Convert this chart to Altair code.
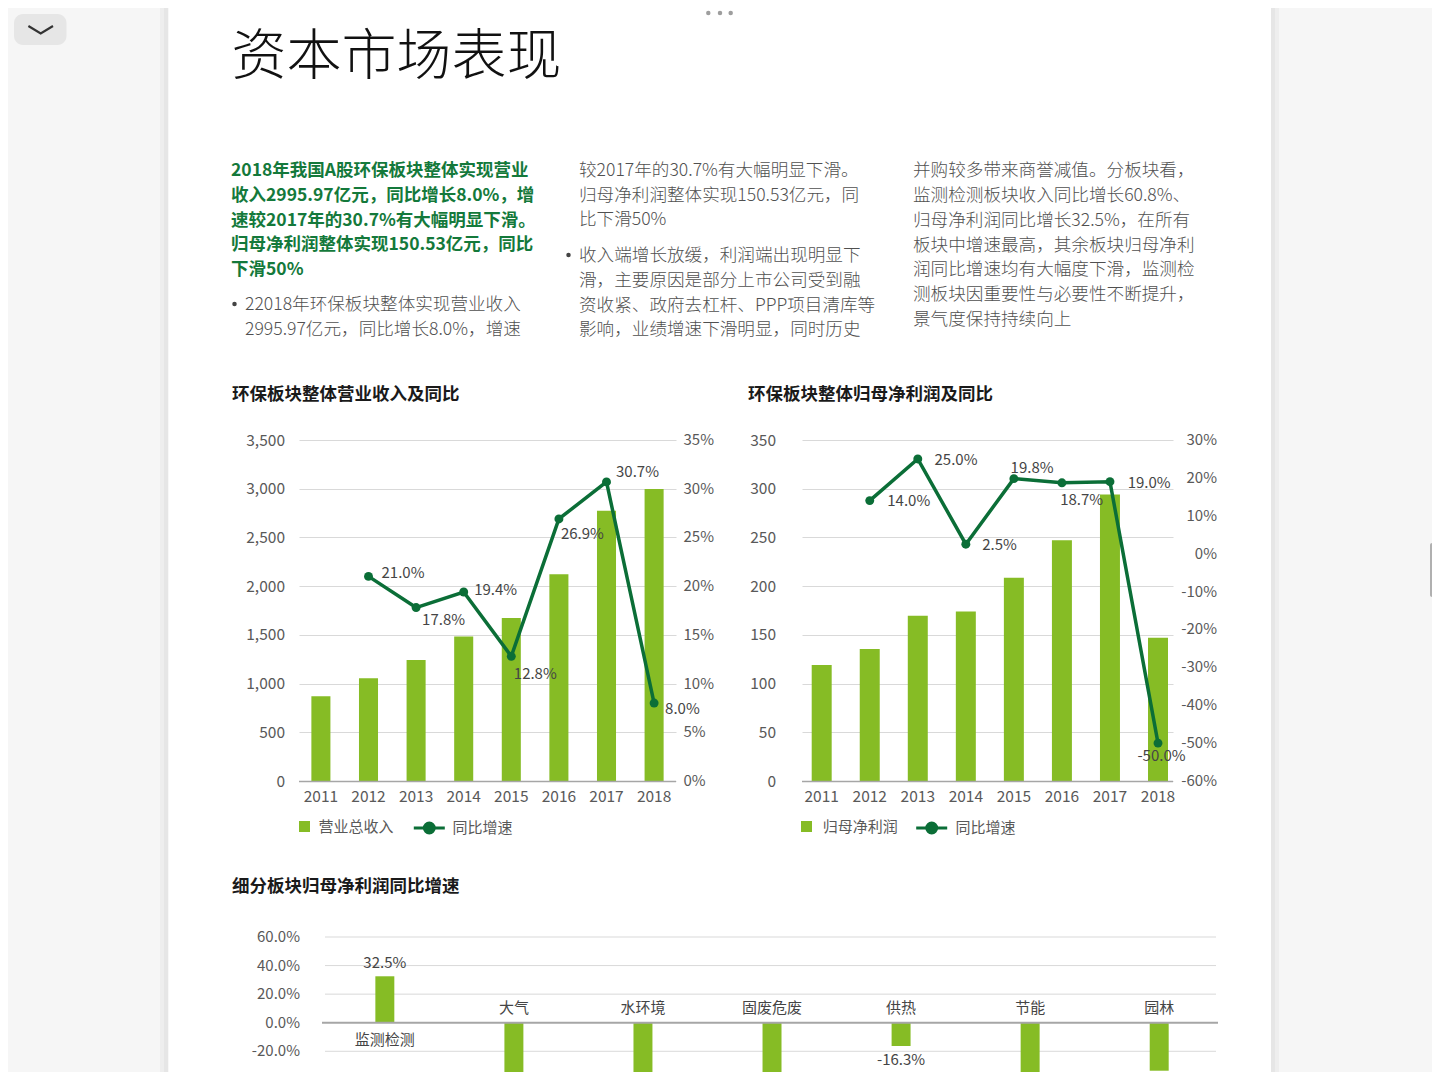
import altair as alt
import pandas as pd

# ---------------- data ----------------
years = ["2011", "2012", "2013", "2014", "2015", "2016", "2017", "2018"]
revenue = [871, 1054, 1241, 1482, 1672, 2122, 2774, 2996]          # 营业总收入 (亿元)
revenue_growth = [None, 21.0, 17.8, 19.4, 12.8, 26.9, 30.7, 8.0]    # 同比增速 %
profit = [119, 135.5, 169.5, 174, 208.5, 247, 294, 147]             # 归母净利润 (亿元)
profit_growth = [None, 14.0, 25.0, 2.5, 19.8, 18.7, 19.0, -50.0]    # 同比增速 %

segments = ["监测检测", "大气", "水环境", "固废危废", "供热", "节能", "园林"]
# bars for 大气/水环境/固废危废/节能 run past the bottom of the picture: estimates
segment_growth = [32.5, -60.0, -55.0, -65.0, -16.3, -70.0, -33.6]

# tick values of the axes
c1_left_ticks = [0, 500, 1000, 1500, 2000, 2500, 3000, 3500]
c1_right_ticks = [0, 5, 10, 15, 20, 25, 30, 35]
c2_left_ticks = [0, 50, 100, 150, 200, 250, 300, 350]
c2_right_ticks = [-60, -50, -40, -30, -20, -10, 0, 10, 20, 30]
c3_ticks = [-80, -60, -40, -20, 0, 20, 40, 60]

page_title = "资本市场表现"
col1_green = [
    "2018年我国A股环保板块整体实现营业",
    "收入2995.97亿元，同比增长8.0%，增",
    "速较2017年的30.7%有大幅明显下滑。",
    "归母净利润整体实现150.53亿元，同比",
    "下滑50%",
]
col1_bullet = [
    "22018年环保板块整体实现营业收入",
    "2995.97亿元，同比增长8.0%，增速",
]
col2_top = [
    "较2017年的30.7%有大幅明显下滑。",
    "归母净利润整体实现150.53亿元，同",
    "比下滑50%",
]
col2_bullet = [
    "收入端增长放缓，利润端出现明显下",
    "滑，主要原因是部分上市公司受到融",
    "资收紧、政府去杠杆、PPP项目清库等",
    "影响，业绩增速下滑明显，同时历史",
]
col3 = [
    "并购较多带来商誉减值。分板块看，",
    "监测检测板块收入同比增长60.8%、",
    "归母净利润同比增长32.5%，在所有",
    "板块中增速最高，其余板块归母净利",
    "润同比增速均有大幅度下滑，监测检",
    "测板块因重要性与必要性不断提升，",
    "景气度保持持续向上",
]
chart1_title = "环保板块整体营业收入及同比"
chart2_title = "环保板块整体归母净利润及同比"
chart3_title = "细分板块归母净利润同比增速"
chart1_series = ["营业总收入", "同比增速"]
chart2_series = ["归母净利润", "同比增速"]

# ---------------- styles ----------------
FONT = "Noto Sans CJK SC"
SIDE = "#f6f6f6"
GREEN = "#86BC25"
DARK = "#0b6e37"
TXT_GREEN = "#14793b"
GRAY_TXT = "#505050"
AXIS_TXT = "#595959"
LABEL_TXT = "#454545"
GRID = "#d9d9d9"
BASE_LINE = "#a6a6a6"
LEG_PATH = "M-1,0L1,0M-0.32,0A0.32,0.32,0,1,1,0.32,0A0.32,0.32,0,1,1,-0.32,0Z"
W, H = 1424, 1064   # whole canvas (page minus the 8px body margin)

one = pd.DataFrame({"k": [0]})


def pct_expr(field, fmt):
    # plain hyphen for negatives, as in the reference
    return (f"(datum.{field} < 0 ? '-' : '') + format(abs(datum.{field}), '{fmt}') + '%'")


def deco_rect(x, x2, y, y2, color, **kw):
    return alt.Chart(one).mark_rect(color=color, **kw).encode(
        x=alt.value(x), x2=alt.value(x2), y=alt.value(y), y2=alt.value(y2))


def deco_dot(x, y, size, color):
    return alt.Chart(one).mark_circle(size=size, color=color, opacity=1).encode(
        x=alt.value(x), y=alt.value(y))


def text_block(lines, x, center, fs, weight="normal", color=GRAY_TXT, lh=24.7):
    # center = screen y of the first line's glyph centre
    y = center - 8 - 0.41 * fs
    return alt.Chart(one).mark_text(
        text=lines, align="left", baseline="top", fontSize=fs, fontWeight=weight,
        color=color, lineHeight=lh, font=FONT).encode(x=alt.value(x), y=alt.value(y))


def base_rule(x, x2, y, width):
    return alt.Chart(one).mark_rule(color=BASE_LINE, strokeWidth=width).encode(
        x=alt.value(x), x2=alt.value(x2), y=alt.value(y))


def tick_labels(ticks, scale, x, align, fmt):
    return alt.Chart(pd.DataFrame({"t": ticks})).transform_calculate(
        lbl=pct_expr("t", fmt)).mark_text(
        align=align, baseline="middle", fontSize=15, color=AXIS_TXT, font=FONT).encode(
        x=alt.value(x), y=alt.Y("t:Q", scale=scale, axis=None), text="lbl:N")


# ---------------- page decoration and texts (page itself is the white background) ----------------
header = [
    deco_rect(0, 152, 0, H, SIDE),
    deco_rect(152, 156, 0, H, "#eeeeee"),
    deco_rect(156, 160.3, 0, H, "#e6e6e6"),
    deco_rect(1263, 1267, 0, H, "#e6e6e6"),
    deco_rect(1267, 1271, 0, H, "#eeeeee"),
    deco_rect(1271, W, 0, H, SIDE),
    deco_rect(6, 58.5, 6, 37, "#e6e6e6", cornerRadius=9),
    alt.Chart(one).mark_point(shape="M-1,-0.3L0,0.3L1,-0.3", filled=False, size=605,
                              stroke="#333333", strokeWidth=2.2, opacity=1).encode(
        x=alt.value(32.7), y=alt.value(21.7)),
    deco_dot(700.3, 5, 20, "#9e9e9e"),
    deco_dot(712, 5, 20, "#9e9e9e"),
    deco_dot(722.7, 5, 20, "#9e9e9e"),
    deco_rect(1422, 1426, 535, 589, "#b0b0b0", cornerRadius=2),
    text_block([page_title], 223.5, 54, 55, weight=300, color="#111111"),
    text_block(col1_green, 223, 169.5, 17.5, weight="bold", color=TXT_GREEN, lh=24.6),
    deco_dot(226.5, 296, 20, "#444444"),
    text_block(col1_bullet, 237, 303.5, 17.6, weight=300, lh=25),
    text_block(col2_top, 571, 169.5, 17.6, weight=300, lh=24.6),
    deco_dot(560.5, 247, 20, "#444444"),
    text_block(col2_bullet, 571, 254.5, 17.6, weight=300, lh=24.7),
    text_block(col3, 905, 169.5, 17.6, weight=300, lh=24.8),
    text_block([chart1_title], 224, 393.5, 17.5, weight="bold", color="#1a1a1a"),
    text_block([chart2_title], 740, 393.5, 17.5, weight="bold", color="#1a1a1a"),
    text_block([chart3_title], 224, 885.5, 17.5, weight="bold", color="#1a1a1a"),
]


# ---------------- combo charts (plot areas placed through scale ranges) ----------------
def combo_chart(vals, growth, names, bar_domain, left_ticks, g_domain, right_ticks,
                left_pad, right_x, right_align, band, x0, x1, y0, y1, offsets, leg):
    df = pd.DataFrame({"year": years, "val": vals, "g": growth})
    base = alt.Chart(df)
    x_main = alt.X("year:N", sort=years, axis=None,
                   scale=alt.Scale(range=[x0, x1], paddingInner=band[0], paddingOuter=band[1],
                                   align=band[2]))
    x_plain = alt.X("year:N", sort=years, axis=None)

    bars = base.transform_calculate(series=f"'{names[0]}'").mark_bar().encode(
        x=x_main,
        y=alt.Y("val:Q", scale=alt.Scale(domain=bar_domain, nice=False, range=[y1, y0]),
                axis=alt.Axis(orient="left", offset=-x0, values=left_ticks,
                              format=",.0f", title=None, grid=True, gridColor=GRID, gridWidth=1,
                              domain=False, ticks=False, labelPadding=left_pad,
                              labelFontSize=15.5, labelColor=AXIS_TXT)),
        fill=alt.Fill("series:N", scale=alt.Scale(domain=[names[0]], range=[GREEN]),
                      legend=alt.Legend(orient="none", legendX=leg[0], legendY=y0 + 379,
                                        title=None, symbolType="square", symbolSize=121,
                                        symbolStrokeWidth=0, labelFontSize=15,
                                        labelColor=AXIS_TXT, labelOffset=leg[1], padding=0)),
    )
    year_lbls = base.mark_text(baseline="middle", fontSize=15.5, color=AXIS_TXT,
                               font=FONT).encode(x=x_plain, y=alt.value(y1 + 16), text="year:N")

    gscale = alt.Scale(domain=g_domain, nice=False, zero=False, range=[y1, y0])
    gbase = base.transform_filter("isValid(datum.g)")
    line = gbase.transform_calculate(series2=f"'{names[1]}'").mark_line(strokeWidth=3.5).encode(
        x=x_plain,
        y=alt.Y("g:Q", scale=gscale, axis=None),
        stroke=alt.Stroke("series2:N", scale=alt.Scale(domain=[names[1]], range=[DARK]),
                          legend=alt.Legend(orient="none", legendX=leg[2], legendY=y0 + 371,
                                            title=None, symbolType=LEG_PATH, symbolSize=961,
                                            symbolStrokeWidth=3, symbolFillColor=DARK,
                                            labelFontSize=15, labelColor=AXIS_TXT,
                                            labelOffset=leg[3], padding=0)),
    )
    pts = gbase.mark_circle(size=80, color=DARK, opacity=1).encode(
        x=x_plain, y=alt.Y("g:Q", scale=gscale, axis=None))
    lbls = []
    for yr, (align, dx, dy) in offsets.items():
        lbls.append(
            gbase.transform_filter(f"datum.year == '{yr}'")
            .transform_calculate(lbl=pct_expr("g", ".1f"))
            .mark_text(align=align, baseline="middle", dx=dx, dy=dy, fontSize=15,
                       color=LABEL_TXT, font=FONT)
            .encode(x=x_plain, y=alt.Y("g:Q", scale=gscale, axis=None), text="lbl:N"))
    right_lbls = tick_labels(right_ticks, gscale, right_x, right_align, "d")
    inner = alt.layer(line, pts, *lbls, right_lbls)
    return alt.layer(bars, year_lbls, base_rule(x0, x1, y1 + 0.5, 1.5), inner).resolve_scale(
        y="independent")


c1_offsets = {
    "2012": ("left", 13, -3), "2013": ("left", 6, 12.5), "2014": ("left", 10.5, -2),
    "2015": ("left", 2.5, 18), "2016": ("left", 2, 15), "2017": ("left", 9.5, -9.5),
    "2018": ("left", 11, 5.5),
}
c2_offsets = {
    "2012": ("left", 17.5, 0), "2013": ("left", 16.7, 0.7), "2014": ("left", 16.3, 0.6),
    "2015": ("left", -3.3, -10.6), "2016": ("left", -1.7, 17), "2017": ("left", 17.7, 1),
    "2018": ("left", -20.6, 12.7),
}

chart1 = combo_chart(revenue, revenue_growth, chart1_series, [0, 3500], c1_left_ticks,
                     [0, 35], c1_right_ticks, 14.5, 675.5, "left", (0.6, 0.26, 0.5),
                     291, 668, 432, 773, c1_offsets, [289, 6.5, 404.3, 6.2])
chart2 = combo_chart(profit, profit_growth, chart2_series, [0, 350], c2_left_ticks,
                     [-60, 30], c2_right_ticks, 26.5, 1209, "right", (0.584, 0.153, 0.66),
                     794, 1165, 432, 773, c2_offsets, [791, 8.7, 906.7, 6.7])

# ---------------- segment chart ----------------
X3 = (314, 1208)
Y3 = (929, 1129)   # 60% at the top, -80% at the bottom (below the visible page)
df3 = pd.DataFrame({"cat": segments, "v": segment_growth})
b3 = alt.Chart(df3)
y3scale = alt.Scale(domain=[-80, 60], nice=False, range=[Y3[1], Y3[0]])
x3 = alt.X("cat:N", sort=segments, axis=None,
           scale=alt.Scale(range=list(X3), paddingInner=0.853, paddingOuter=0.39, align=0.53))
x3p = alt.X("cat:N", sort=segments, axis=None)
grid3 = alt.Chart(pd.DataFrame({"t": c3_ticks})).transform_filter("datum.t != 0").mark_rule(
    color=GRID, strokeWidth=1).encode(
    x=alt.value(317), x2=alt.value(1208), y=alt.Y("t:Q", scale=y3scale, axis=None))
zero3 = alt.Chart(pd.DataFrame({"t": [0]})).mark_rule(color=BASE_LINE, strokeWidth=2).encode(
    x=alt.value(314), x2=alt.value(1210), y=alt.Y("t:Q", scale=y3scale, axis=None))
bars3 = b3.mark_bar(color=GREEN).encode(x=x3, y=alt.Y("v:Q", scale=y3scale, axis=None))
cat_pos = b3.transform_filter("datum.v > 0").transform_calculate(zero="0").mark_text(
    fontSize=15, color=LABEL_TXT, baseline="middle", dy=17.5, font=FONT).encode(
    x=x3p, y=alt.Y("zero:Q", scale=y3scale, axis=None), text="cat:N")
cat_neg = b3.transform_filter("datum.v < 0").transform_calculate(zero="0").mark_text(
    fontSize=15, color=LABEL_TXT, baseline="middle", dy=-14.5, font=FONT).encode(
    x=x3p, y=alt.Y("zero:Q", scale=y3scale, axis=None), text="cat:N")
val_pos = b3.transform_filter("datum.v > 0").transform_calculate(
    lbl=pct_expr("v", ".1f")).mark_text(
    fontSize=15, color=LABEL_TXT, baseline="middle", dy=-13, font=FONT).encode(
    x=x3p, y=alt.Y("v:Q", scale=y3scale, axis=None), text="lbl:N")
val_neg = b3.transform_filter("datum.v < 0").transform_calculate(
    lbl=pct_expr("v", ".1f")).mark_text(
    fontSize=15, color=LABEL_TXT, baseline="middle", dy=14, font=FONT).encode(
    x=x3p, y=alt.Y("v:Q", scale=y3scale, axis=None), text="lbl:N")
ylbl3 = tick_labels(c3_ticks, y3scale, 292, "right", ".1f")
chart3 = alt.layer(grid3, bars3, zero3, cat_pos, cat_neg, val_pos, val_neg, ylbl3)

chart = alt.layer(*header, chart1, chart2, chart3).resolve_scale(
    x="independent", y="independent", fill="independent", stroke="independent"
).resolve_legend(fill="independent", stroke="independent").properties(
    width=W, height=H, padding=0, autosize=alt.AutoSizeParams(type="none")
).configure(background="#ffffff", font=FONT).configure_view(stroke=None).configure_axis(
    labelFont=FONT).configure_legend(labelFont=FONT)

chart.save("out.html", embed_options={"renderer": "svg", "actions": False})
